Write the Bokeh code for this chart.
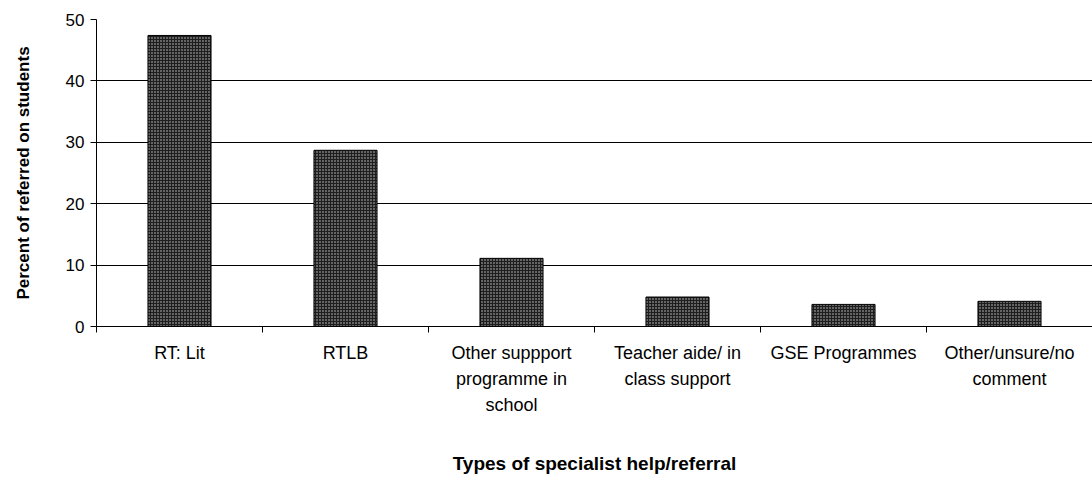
from bokeh.plotting import figure
from bokeh.models import FixedTicker, Range1d, ColumnDataSource
from bokeh.embed import file_html
from bokeh.resources import INLINE

categories = [
    "RT: Lit",
    "RTLB",
    "Other suppport\nprogramme in\nschool",
    "Teacher aide/ in\nclass support",
    "GSE Programmes",
    "Other/unsure/no\ncomment",
]
values = [47.4, 28.7, 11.1, 4.8, 3.6, 4.1]
y_ticks = [0, 10, 20, 30, 40, 50]

FONT = "Liberation Sans"

xs = [i + 0.5 for i in range(len(categories))]
src = ColumnDataSource(dict(x=xs, top=values))

p = figure(width=1092, height=480, output_backend="svg", toolbar_location=None,
           x_range=Range1d(0, len(categories)), y_range=Range1d(0, 50),
           min_border_left=96, min_border_top=19, min_border_bottom=154,
           min_border_right=0)
p.outline_line_color = None
p.background_fill_color = "white"
p.border_fill_color = "white"

p.vbar(x="x", top="top", bottom=0, width=0.38, source=src,
       fill_color="#1e1e1e", line_color="black", line_width=1,
       hatch_pattern="dot", hatch_color="#cfcfcf", hatch_scale=3, hatch_weight=1)

# Y axis
p.yaxis.ticker = FixedTicker(ticks=y_ticks)
p.yaxis.axis_label = "Percent of referred on students"
p.yaxis.axis_label_text_font = FONT
p.yaxis.axis_label_text_font_style = "bold"
p.yaxis.axis_label_text_font_size = "17px"
p.yaxis.axis_label_text_color = "black"
p.yaxis.axis_label_standoff = 30
p.yaxis.major_label_text_font = FONT
p.yaxis.major_label_text_font_size = "17px"
p.yaxis.major_label_text_color = "black"
p.yaxis.major_label_standoff = 6
p.yaxis.major_tick_out = 6
p.yaxis.major_tick_in = 0
p.yaxis.minor_tick_line_color = None
p.yaxis.axis_line_color = "black"
p.yaxis.major_tick_line_color = "black"

# X axis
p.xaxis.ticker = FixedTicker(ticks=xs, minor_ticks=list(range(len(categories) + 1)))
p.xaxis.major_label_overrides = {x: c for x, c in zip(xs, categories)}
p.xaxis.major_tick_out = 0
p.xaxis.major_tick_in = 0
p.xaxis.minor_tick_out = 6
p.xaxis.minor_tick_in = 0
p.xaxis.minor_tick_line_color = "black"
p.xaxis.axis_line_color = "black"
p.xaxis.major_label_text_font = FONT
p.xaxis.major_label_text_font_size = "18px"
p.xaxis.major_label_text_color = "black"
p.xaxis.major_label_text_line_height = 1.3
p.xaxis.major_label_standoff = 10
p.xaxis.axis_label = "Types of specialist help/referral"
p.xaxis.axis_label_text_font = FONT
p.xaxis.axis_label_text_font_style = "bold"
p.xaxis.axis_label_text_font_size = "19px"
p.xaxis.axis_label_text_color = "black"
p.xaxis.axis_label_standoff = 35

p.xgrid.grid_line_color = None
p.ygrid.ticker = FixedTicker(ticks=y_ticks)
p.ygrid.grid_line_color = "black"
p.ygrid.grid_line_width = 1

open("out.html", "w").write(file_html(p, INLINE))
